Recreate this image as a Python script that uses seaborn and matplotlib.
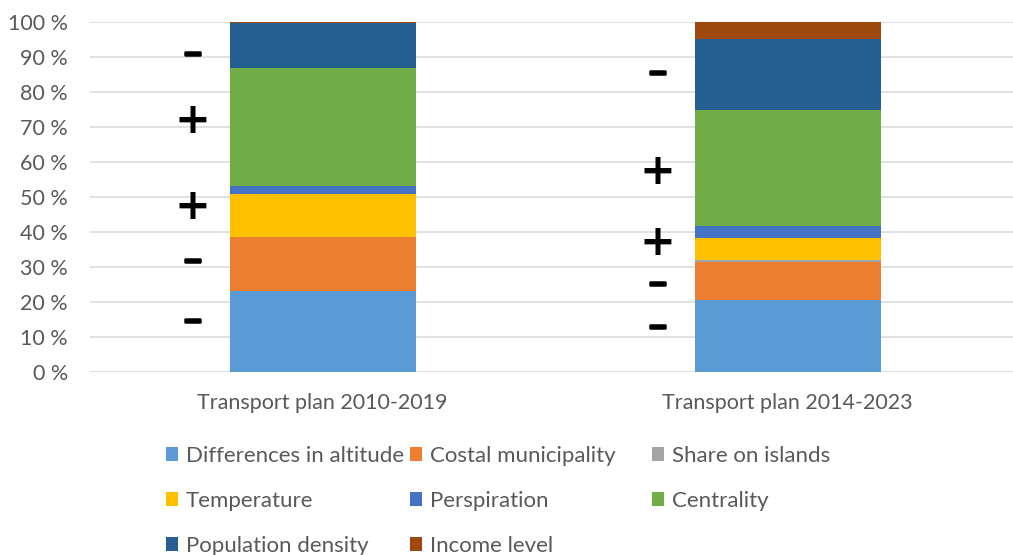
import numpy as np
import pandas as pd
import seaborn as sns
import matplotlib.pyplot as plt
import matplotlib.patheffects as pe
from matplotlib.patches import Patch
from matplotlib.ticker import FuncFormatter

# Data (percent shares per plan)
plans = ["Transport plan 2010-2019", "Transport plan 2014-2023"]
factors = ["Differences in altitude", "Costal municipality", "Share on islands",
           "Temperature", "Perspiration", "Centrality", "Population density", "Income level"]
altitude = [23.2, 20.7]
costal = [15.3, 10.8]
islands = [0.0, 0.5]
temperature = [12.3, 6.4]
perspiration = [2.4, 3.4]
centrality = [33.7, 33.1]
pop_density = [12.8, 20.3]
income = [0.3, 4.8]
colors = ["#5B9BD5", "#ED7D31", "#A5A5A5", "#FFC000", "#4472C4", "#70AD47", "#255E91", "#9E480E"]

# +/- annotations next to each bar
signs = [["−", "+", "+", "−", "−"], ["−", "+", "+", "−", "−"]]
sign_y = [[90.9, 71.7, 47.1, 31.7, 14.6], [85.4, 57.1, 36.9, 25.1, 12.9]]

series = [altitude, costal, islands, temperature, perspiration, centrality, pop_density, income]
df = pd.DataFrame(np.array(series).T, columns=factors)
df["plan"] = plans
cum = df[factors].cumsum(axis=1)

sns.set_theme(style="white")
plt.rcParams["font.family"] = ["Lato", "DejaVu Sans"]
text_col = "#595959"

fig = plt.figure(figsize=(10.13, 5.55), dpi=100)
ax = fig.add_axes([90 / 1013, (555 - 372) / 555, (1013 - 90) / 1013, 350 / 555])

# draw cumulative totals from top to bottom so each segment shows
for name, col in reversed(list(zip(factors, colors))):
    sns.barplot(x=df["plan"], y=cum[name], color=col, width=0.4, ax=ax,
                saturation=1, linewidth=0, zorder=3)

for i in range(len(plans)):
    for s, y in zip(signs[i], sign_y[i]):
        if s == "+":
            ax.text(i - 0.28, y, s, ha="center", va="center", fontsize=31,
                    fontweight="bold", color="black", family="DejaVu Sans")
        else:
            ax.text(i - 0.28, y, s, ha="center", va="center", fontsize=17,
                    fontweight="bold", color="black", family="DejaVu Sans",
                    path_effects=[pe.withStroke(linewidth=1.8, foreground="black")])

ax.set_xlim(-0.5, (1013 - 90) / 465 - 0.5)
ax.set_ylim(0, 100)
ax.set_yticks(range(0, 101, 10))
ax.yaxis.set_major_formatter(FuncFormatter(lambda v, p: f"{int(v)} %"))
ax.grid(axis="y", color="#D9D9D9", linewidth=1.1, zorder=0)
ax.set_axisbelow(True)
for sp in ax.spines.values():
    sp.set_visible(False)
ax.set_xlabel("")
ax.set_ylabel("")
ax.tick_params(axis="y", length=0, pad=16, labelsize=15.5, labelcolor=text_col)
ax.tick_params(axis="x", length=0, pad=15, labelsize=15.5, labelcolor=text_col)

# legend: three columns placed like the original
handles = [Patch(facecolor=c, edgecolor="none") for c in colors]
col_groups = [[0, 3, 6], [1, 4, 7], [2, 5]]
col_x = [166, 410, 652]
for grp, x in zip(col_groups, col_x):
    fig.legend([handles[k] for k in grp], [factors[k] for k in grp],
               loc="upper left", bbox_to_anchor=(x / 1013, 1 - 446 / 555),
               frameon=False, fontsize=16, labelcolor=text_col,
               handlelength=0.55, handleheight=0.55, handletextpad=0.35,
               labelspacing=1.12, borderpad=0, borderaxespad=0)

fig.savefig("out.png", dpi=100)
